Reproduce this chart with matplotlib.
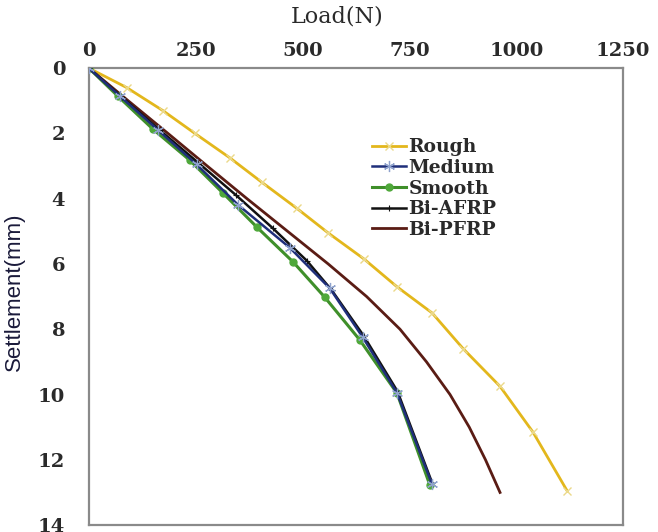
import matplotlib
matplotlib.use("Agg")
import matplotlib.pyplot as plt

# Data (Load in N, Settlement in mm)
rough_settle = [0, 0.6, 1.3, 2.0, 2.75, 3.5, 4.3, 5.05, 5.85, 6.7, 7.5, 8.6, 9.75, 11.15, 12.95]
rough_load = [0, 89, 173, 248, 330, 405, 487, 560, 644, 721, 803, 876, 962, 1039, 1119]

medium_settle = [0, 0.85, 1.9, 2.95, 4.2, 5.5, 6.75, 8.25, 9.95, 12.75]
medium_load = [0, 72, 162, 252, 350, 470, 564, 641, 721, 803]

smooth_settle = [0, 0.86, 1.87, 2.82, 3.83, 4.87, 5.94, 7.02, 8.33, 9.96, 12.78]
smooth_load = [0, 68, 150, 236, 314, 393, 478, 552, 634, 721, 798]

afrp_settle = [0, 0.9, 1.9, 2.9, 3.9, 4.9, 5.9, 6.8, 8.2, 9.9, 12.7]
afrp_load = [0, 78, 166, 256, 345, 430, 510, 568, 643, 722, 803]

pfrp_settle = [0, 1, 2, 3, 4, 5, 6, 7, 8, 9, 10, 11, 12, 13]
pfrp_load = [0, 92, 185, 277, 370, 465, 560, 650, 728, 790, 845, 890, 928, 962]

x_ticks = [0, 250, 500, 750, 1000, 1250]
y_ticks = [0, 2, 4, 6, 8, 10, 12, 14]

serif = "DejaVu Serif"

fig = plt.figure(figsize=(6.58, 5.32), dpi=100)
ax = fig.add_axes([0.135, 0.013, 0.812, 0.859])

ax.plot(rough_load, rough_settle, color="#E3B71C", lw=2.0, marker="x", ms=6,
        mec="#EBD98A", mew=1.0, label="Rough", zorder=2)
ax.plot(pfrp_load, pfrp_settle, color="#5A1C14", lw=2.0, label="Bi-PFRP", zorder=3)
ax.plot(smooth_load, smooth_settle, color="#3F8F2A", lw=2.2, marker="o", ms=5,
        mfc="#4FA83A", mec="#4FA83A", label="Smooth", zorder=4)
ax.plot(afrp_load, afrp_settle, color="#111111", lw=1.8, marker="+", ms=5,
        mew=0.8, label="Bi-AFRP", zorder=5)
ax.plot(medium_load, medium_settle, color="#1F2F7A", lw=1.8, marker=(6, 2, 0), ms=8,
        mec="#8FA2CC", mew=0.9, label="Medium", zorder=6)

ax.set_xlim(0, 1250)
ax.set_ylim(14, 0)
ax.xaxis.tick_top()
ax.xaxis.set_label_position("top")
ax.set_xticks(x_ticks)
ax.set_yticks(y_ticks)
ax.tick_params(axis="x", length=0, pad=6, labelsize=14)
ax.tick_params(axis="y", length=0, pad=17, labelsize=14)
for lab in ax.get_xticklabels() + ax.get_yticklabels():
    lab.set_fontfamily(serif)
    lab.set_fontweight("bold")
    lab.set_color("#2a2a2a")

ax.set_xlabel("Load(N)", fontfamily=serif, fontsize=16, color="#2a2a2a")
ax.xaxis.set_label_coords(0.465, 1.1)
ax.set_ylabel("Settlement(mm)", fontfamily="Liberation Sans", fontsize=16,
              color="#1a1a3a")
ax.yaxis.set_label_coords(-0.12, 0.51)

for s in ax.spines.values():
    s.set_color("#8a8a8a")
    s.set_linewidth(1.6)

handles, labels = ax.get_legend_handles_labels()
order = ["Rough", "Medium", "Smooth", "Bi-AFRP", "Bi-PFRP"]
hmap = dict(zip(labels, handles))
leg = ax.legend([hmap[k] for k in order], order, loc="upper left",
                bbox_to_anchor=(0.505, 0.875), frameon=False,
                prop={"family": serif, "size": 13.5, "weight": "bold"},
                handlelength=1.8, handletextpad=0.15, labelspacing=0.14,
                borderpad=0.2)
for t in leg.get_texts():
    t.set_color("#2a2a2a")

fig.savefig("out.png", dpi=100)
